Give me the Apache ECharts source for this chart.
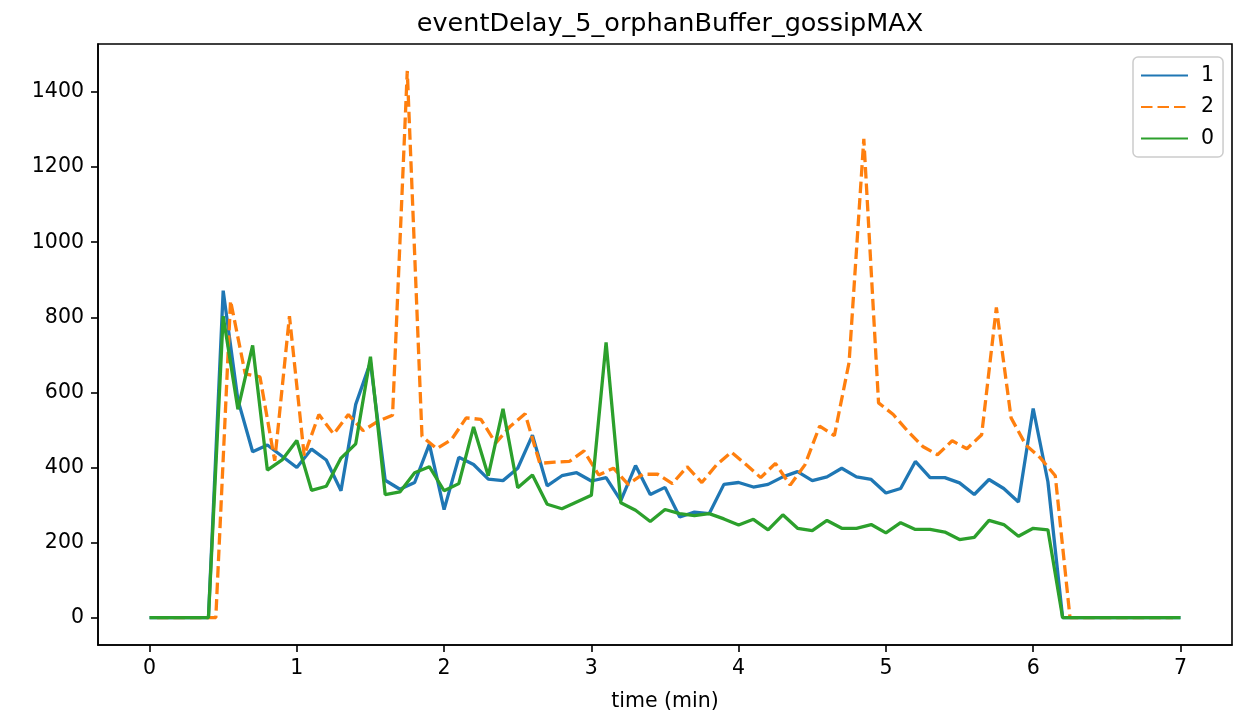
<!DOCTYPE html>
<html>
<head>
<meta charset="utf-8">
<script src="https://cdn.jsdelivr.net/npm/echarts@6/dist/echarts.min.js"></script>
<style>
html,body{margin:0;padding:0;background:#fff;}
#chart{width:1237px;height:717px;}
</style>
</head>
<body>
<div id="chart"></div>
<script>
// time points (min) for series "1" and "0"
const timeA = [0.0,0.1,0.2,0.3,0.4,0.5,0.6,0.7,0.8,0.9,1.0,1.1,1.2,1.3,1.4,1.5,1.6,1.7,1.8,1.9,
  2.0,2.1,2.2,2.3,2.4,2.5,2.6,2.7,2.8,2.9,3.0,3.1,3.2,3.3,3.4,3.5,3.6,3.7,3.8,3.9,
  4.0,4.1,4.2,4.3,4.4,4.5,4.6,4.7,4.8,4.9,5.0,5.1,5.2,5.3,5.4,5.5,5.6,5.7,5.8,5.9,
  6.0,6.1,6.2,6.3,6.4,6.5,6.6,6.7,6.8,6.9,7.0];
// time points (min) for series "2"
const timeB = [0.05,0.15,0.25,0.35,0.45,0.55,0.65,0.75,0.85,0.95,1.05,1.15,1.25,1.35,1.45,1.55,1.65,1.75,1.85,1.95,
  2.05,2.15,2.25,2.35,2.45,2.55,2.65,2.75,2.85,2.95,3.05,3.15,3.25,3.35,3.45,3.55,3.65,3.75,3.85,3.95,
  4.05,4.15,4.25,4.35,4.45,4.55,4.65,4.75,4.85,4.95,5.05,5.15,5.25,5.35,5.45,5.55,5.65,5.75,5.85,5.95,
  6.05,6.15,6.25,6.35,6.45,6.55,6.65,6.75,6.85,6.95];

const series1 = [0,0,0,0,0,
  871,580,442,460,430,400,449,420,338,568,
  680,366,342,360,462,288,427,408,369,365,
  398,486,351,378,386,364,373,312,405,328,
  347,268,281,277,355,360,348,355,375,389,
  365,375,398,375,368,332,344,416,373,373,
  359,328,368,344,308,557,362,
  0,0,0,0,0,0,0,0,0];
const series2 = [0,0,0,0,0,
  844,649,641,418,803,432,541,489,541,498,
  523,539,1456,483,450,474,532,528,465,510,
  543,411,414,416,444,380,398,355,382,382,
  357,402,360,407,441,408,373,411,353,407,
  510,485,680,1275,572,541,496,456,434,471,
  450,487,826,532,460,425,378,
  0,0,0,0,0,0,0,0];
const series0 = [0,0,0,0,0,
  803,555,725,393,420,472,339,350,425,463,
  695,328,335,386,402,338,357,508,378,556,
  346,380,302,290,308,326,733,306,286,256,
  288,277,272,277,263,247,262,234,274,238,
  232,259,238,238,248,226,253,235,235,228,
  208,214,259,248,217,238,234,
  0,0,0,0,0,0,0,0,0];

const xTicks = [0,1,2,3,4,5,6,7];
const yTicks = [0,200,400,600,800,1000,1200,1400];
const seriesNames = ['1','2','0'];

const zip = (xs, ys) => xs.map((x, i) => [x, ys[i]]);
const FONT = 'DejaVu Sans';
const FS = 20.5;

const chart = echarts.init(document.getElementById('chart'), null, {renderer: 'canvas'});
chart.setOption({
  animation: false,
  backgroundColor: '#ffffff',
  title: {
    text: 'eventDelay_5_orphanBuffer_gossipMAX',
    left: 665, top: 6, textAlign: 'center',
    textStyle: {fontFamily: FONT, fontSize: 25.5, fontWeight: 'normal', color: '#000'}
  },
  legend: {
    data: seriesNames.map(n => ({name: n, itemStyle: {opacity: 0}})),
    orient: 'vertical',
    left: 1133, top: 57,
    padding: [8, 9, 8, 7],
    itemWidth: 47, itemHeight: 21, itemGap: 10.5,
    backgroundColor: 'rgba(255,255,255,0.8)',
    borderColor: '#cccccc', borderWidth: 1.5, borderRadius: 5,
    textStyle: {fontFamily: FONT, fontSize: FS, color: '#000', padding: [0, 0, 0, 8]}
  },
  grid: {left: 98, right: 5, top: 44, bottom: 72, show: true, borderColor: '#000', borderWidth: 1.6, backgroundColor: 'transparent'},
  xAxis: {
    type: 'value', min: -0.35, max: 7.35,
    name: 'time (min)', nameLocation: 'middle', nameGap: 46,
    nameTextStyle: {fontFamily: FONT, fontSize: FS, color: '#000'},
    axisLine: {show: true, onZero: false, lineStyle: {color: '#000', width: 1.6}},
    axisTick: {show: true, length: 7, customValues: xTicks, lineStyle: {color: '#000', width: 1.6}},
    axisLabel: {customValues: xTicks, margin: 13, fontFamily: FONT, fontSize: FS, color: '#000'},
    splitLine: {show: false}
  },
  yAxis: {
    type: 'value', min: -72.75, max: 1527.75,
    axisLine: {show: true, onZero: false, lineStyle: {color: '#000', width: 1.6}},
    axisTick: {show: true, length: 7, customValues: yTicks, lineStyle: {color: '#000', width: 1.6}},
    axisLabel: {customValues: yTicks, margin: 14, fontFamily: FONT, fontSize: FS, color: '#000',
      formatter: v => String(v)},
    splitLine: {show: false}
  },
  series: [
    {name: '1', type: 'line', symbol: 'none', data: zip(timeA, series1),
     itemStyle: {color: '#1f77b4'}, lineStyle: {color: '#1f77b4', width: 3.3}},
    {name: '2', type: 'line', symbol: 'none', data: zip(timeB, series2),
     itemStyle: {color: '#ff7f0e'}, lineStyle: {color: '#ff7f0e', width: 3.3, type: [11.5, 5]}},
    {name: '0', type: 'line', symbol: 'none', data: zip(timeA, series0),
     itemStyle: {color: '#2ca02c'}, lineStyle: {color: '#2ca02c', width: 3.3}}
  ]
});
</script>
</body>
</html>
